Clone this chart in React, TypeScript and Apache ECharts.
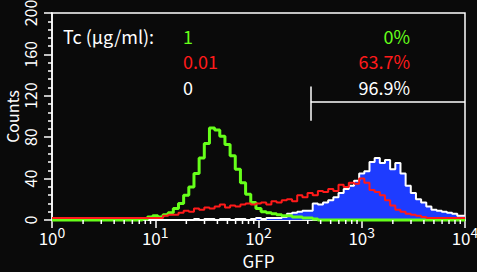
import React, { useEffect, useRef } from 'react';
import * as echarts from 'echarts';

// Histogram channels: evenly spaced on the log GFP scale
const channelsPerDecade = 20;
const minorTickFactors = [2, 3, 4, 5, 6, 7, 8, 9];
const minorTickDecades = [1, 10, 100, 1000];

// Tc 1 µg/ml (green)
const countsTc1 = [
  0, 0, 0, 0, 0, 0, 0, 0, 0, 0, 0, 0, 0, 0, 0, 0, 0, 0,
  1, 3, 4, 3, 5, 7, 11, 16, 24, 32, 45, 60, 74, 89, 87, 81, 73, 62, 49, 36, 25, 17,
  11, 8, 7, 6, 5, 4, 4, 3, 3, 2, 2, 1,
  0, 0, 0, 0, 0, 0, 0, 0, 0, 0, 0, 0, 0, 0, 0, 0, 0, 0, 0, 0, 0, 0, 0, 0, 0, 0, 0, 0, 0,
];
// Tc 0.01 µg/ml (red)
const countsTc001 = [
  2, 2, 2, 2, 2, 2, 2, 2, 2, 2, 2, 2, 2, 2, 2, 2, 2, 2, 2, 2, 2, 2,
  4, 5, 5, 7, 9, 8, 11, 10, 12, 11, 13, 15, 12, 14, 13, 15, 16, 15, 16, 17, 15, 18, 17,
  19, 20, 18, 24, 22, 26, 24, 28, 27, 30, 28, 34, 32, 36, 35, 40, 36, 29, 27, 24, 19,
  14, 10, 8, 6, 5, 4, 3,
  2, 2, 2, 2, 2, 2, 2, 2,
];
// Tc 0 µg/ml (blue fill, white outline)
const countsTc0 = [
  0, 0, 0, 0, 0, 0, 0, 0, 0, 0, 0, 0, 0, 0, 0, 0, 0, 0, 0, 0, 0, 0, 0, 0, 0, 0, 0, 0,
  1, 0, 1, 1, 0, 1, 1, 0, 1, 1, 0, 1, 2, 1, 2, 2, 2, 3, 6, 7, 8, 9, 9, 16, 15, 17, 19,
  22, 26, 30, 33, 38, 45, 47, 56, 60, 55, 58, 49, 55, 45, 33, 26, 20, 17, 13, 10, 9, 8,
  7, 6, 4, 4,
];

const legendTitle = 'Tc (μg/ml):';
const concLabels = ['1', '0.01', '0'];
const percentLabels = ['0%', '63.7%', '96.9%'];
const seriesColors = ['#66ff1a', '#ff1a1a', '#ffffff'];

// Gate marker (GFP value, count levels)
const gateGFP = 321;
const gateLevel = 113.8;
const gateTop = 129;
const gateBottom = 96;

const FONT = '"Noto Sans CJK JP", "Noto Sans", sans-serif';

const toPairs = (counts: number[]) =>
  counts.map((c, i) => [Math.pow(10, i / channelsPerDecade), c]);

export default function App() {
  const ref = useRef<HTMLDivElement>(null);
  useEffect(() => {
    document.body.style.margin = '0';
    document.body.style.background = '#0a0a0a';
    if (!ref.current) return;
    const chart = echarts.init(ref.current, undefined, { renderer: 'svg' });

    const minorTicks: number[][] = [];
    minorTickDecades.forEach((d) => minorTickFactors.forEach((f) => minorTicks.push([f * d, 0])));

    const rowY = [36, 61, 87];
    const graphic: any[] = [
      {
        type: 'text', x: 63, y: rowY[0],
        style: { text: legendTitle, fill: '#fff', font: `18px ${FONT}`, align: 'left', verticalAlign: 'middle' },
      },
    ];
    concLabels.forEach((t, i) => {
      graphic.push({
        type: 'text', x: 183, y: rowY[i],
        style: { text: t, fill: seriesColors[i], font: `18px ${FONT}`, align: 'left', verticalAlign: 'middle' },
      });
      graphic.push({
        type: 'text', x: 410, y: rowY[i],
        style: { text: percentLabels[i], fill: seriesColors[i], font: `18px ${FONT}`, align: 'right', verticalAlign: 'middle' },
      });
    });

    chart.setOption({
      animation: false,
      backgroundColor: '#0a0a0a',
      grid: {
        left: 52, right: 12, top: 13, bottom: 52,
        outerBoundsMode: 'none', containLabel: false,
        show: true, borderColor: '#ffffff', borderWidth: 1.5, backgroundColor: 'transparent',
      },
      xAxis: {
        type: 'log', logBase: 10, min: 1, max: 10000,
        name: 'GFP', nameLocation: 'middle', nameGap: 33, nameMoveOverlap: false,
        nameTextStyle: { color: '#fff', fontSize: 17, fontFamily: FONT, lineHeight: 15 },
        axisLine: { show: true, lineStyle: { color: '#fff', width: 1.5 } },
        axisTick: { show: true, length: 8, lineStyle: { color: '#fff', width: 1.5 } },
        splitLine: { show: false },
        axisLabel: {
          margin: 5,
          formatter: (v: number) => `{b|10}{s|${Math.round(Math.log10(v))}}`,
          rich: {
            b: { fontSize: 17, color: '#fff', fontFamily: FONT, lineHeight: 21, verticalAlign: 'bottom' },
            s: { fontSize: 14, color: '#fff', fontFamily: FONT, lineHeight: 13, verticalAlign: 'top' },
          },
        },
      },
      yAxis: {
        type: 'value', min: 0, max: 200, interval: 40,
        name: 'Counts', nameLocation: 'middle', nameGap: 33, nameRotate: 90, nameMoveOverlap: false,
        nameTextStyle: { color: '#fff', fontSize: 16, fontFamily: FONT, lineHeight: 15 },
        axisLine: { show: true, lineStyle: { color: '#fff', width: 1.5 } },
        axisTick: { show: true, length: 8, lineStyle: { color: '#fff', width: 1.5 } },
        minorTick: { show: true, splitNumber: 5, length: 4, lineStyle: { color: '#fff', width: 1.5 } },
        splitLine: { show: false },
        axisLabel: { color: '#fff', fontSize: 16, fontFamily: FONT, rotate: 90, margin: 14 },
      },
      graphic,
      series: [
        {
          name: 'Tc 0', type: 'line', step: 'middle', data: toPairs(countsTc0),
          symbol: 'none', z: 2,
          lineStyle: { color: '#ffffff', width: 2 },
          areaStyle: { color: '#1e3cff', opacity: 1 },
          markLine: {
            silent: true, symbol: 'none', label: { show: false },
            lineStyle: { color: '#fff', width: 1.5, type: 'solid' },
            data: [
              [{ coord: [gateGFP, gateLevel] }, { coord: [10000, gateLevel] }],
              [{ coord: [gateGFP, gateTop] }, { coord: [gateGFP, gateBottom] }],
            ],
          },
        },
        {
          name: 'Tc 1', type: 'line', step: 'middle', data: toPairs(countsTc1),
          symbol: 'none', z: 3, clip: false,
          lineStyle: { color: seriesColors[0], width: 3 },
        },
        {
          name: 'Tc 0.01', type: 'line', step: 'middle', data: toPairs(countsTc001),
          symbol: 'none', z: 4,
          lineStyle: { color: seriesColors[1], width: 2 },
        },
        {
          name: 'minor ticks', type: 'custom', data: minorTicks, z: 5, clip: false, silent: true,
          renderItem: (_p: any, api: any) => {
            const p = api.coord([api.value(0), 0]);
            return {
              type: 'line',
              shape: { x1: p[0], y1: p[1], x2: p[0], y2: p[1] + 4 },
              style: { stroke: '#fff', lineWidth: 1.5 },
            };
          },
        },
      ],
    });
    return () => chart.dispose();
  }, []);
  return <div ref={ref} style={{ width: 477, height: 272 }} />;
}
